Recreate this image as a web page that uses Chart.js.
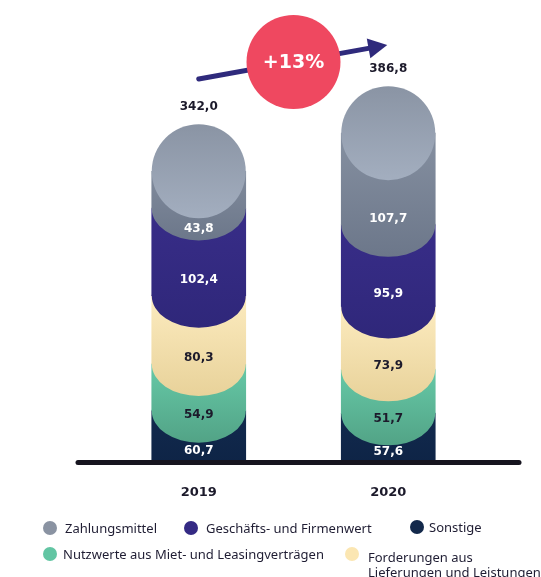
<!DOCTYPE html>
<html lang="de">
<head>
<meta charset="utf-8">
<script src="https://cdn.jsdelivr.net/npm/chart.js@4.4.1/dist/chart.umd.min.js"></script>
<style>
    html, body { margin: 0; padding: 0; background: #fff; }
    #wrap { position: relative; width: 541px; height: 577px; overflow: hidden; }
    #chart { position: absolute; left: 0; top: 0; }
    .dot { position: absolute; width: 14px; height: 14px; border-radius: 50%; }
    .lbl { position: absolute; font-family: 'Noto Sans', sans-serif; font-size: 13px; line-height: 16px; color: #1f1d33; white-space: nowrap; }
</style>
</head>
<body>
<div id="wrap">
    <canvas id="chart" width="541" height="577"></canvas>
</div>
<script>
// values (Mio. EUR)
const categories = ['2019', '2020'];
const zahlungsmittel = [43.8, 107.7];
const firmenwert = [102.4, 95.9];
const forderungen = [80.3, 73.9];
const nutzwerte = [54.9, 51.7];
const sonstige = [60.7, 57.6];
const totals = [342.0, 386.8];
const growthLabel = '+13%';

// stack from the bottom up
const stackOrder = [
    { label: 'Sonstige', values: sonstige },
    { label: 'Nutzwerte aus Miet- und Leasingverträgen', values: nutzwerte },
    { label: 'Forderungen aus Lieferungen und Leistungen', values: forderungen },
    { label: 'Geschäfts- und Firmenwert', values: firmenwert },
    { label: 'Zahlungsmittel', values: zahlungsmittel }
];

const styles = {
    'Sonstige': { top: '#122a4e', bottom: '#0e2446', dot: '#13294b', text: '#ffffff' },
    'Nutzwerte aus Miet- und Leasingverträgen': { top: '#66c9a7', bottom: '#52a386', dot: '#62c5a3', text: '#1c1a2b' },
    'Forderungen aus Lieferungen und Leistungen': { top: '#fcebbf', bottom: '#e8d29a', dot: '#fbe6b2', text: '#1c1a2b' },
    'Geschäfts- und Firmenwert': { top: '#382d88', bottom: '#2f277a', dot: '#342a84', text: '#ffffff' },
    'Zahlungsmittel': { top: '#8f99a9', bottom: '#6c778a', dot: '#8a93a2', text: '#ffffff' }
};

const CAP = 47;   // rounded top of the column
const TAIL = 32;  // rounded bottom of each segment
const fmt = v => v.toFixed(1).replace('.', ',');

// floating bars built from the running sum
const running = categories.map(() => 0);
const datasets = stackOrder.map((s, si) => {
    const st = styles[s.label];
    const data = s.values.map((v, i) => { const d = [running[i], running[i] + v]; running[i] += v; return d; });
    const isTop = si === stackOrder.length - 1;
    const isBottom = si === 0;
    return {
        label: s.label,
        data: data,
        values: s.values,
        isTop: isTop,
        isBottom: isBottom,
        labelColor: st.text,
        grouped: false,
        barThickness: 94,
        borderWidth: 0,
        borderSkipped: false,
        backgroundColor: (c) => {
            const chart = c.chart;
            const y = chart.scales && chart.scales.y;
            if (c.type !== 'data' || !y || !chart.chartArea || !Array.isArray(c.raw)) return st.top;
            const y0 = y.getPixelForValue(c.raw[1]) - (isTop ? CAP : 0);
            const y1 = y.getPixelForValue(c.raw[0]) + (isBottom ? 0 : TAIL);
            const g = chart.ctx.createLinearGradient(0, y0, 0, y1);
            g.addColorStop(0, st.top);
            g.addColorStop(1, st.bottom);
            return g;
        }
    };
}).reverse(); // top segment first so it is drawn last

const decor = {
    id: 'decor',
    afterDatasetDraw(chart, args) {
        const ds = chart.data.datasets[args.index];
        const ctx = chart.ctx;
        args.meta.data.forEach((bar) => {
            const x = bar.x, r = bar.width / 2;
            const top = Math.min(bar.y, bar.base), base = Math.max(bar.y, bar.base);
            ctx.save();
            ctx.fillStyle = bar.options.backgroundColor;
            if (!ds.isBottom) {
                ctx.beginPath();
                ctx.rect(x - r, base - 1, r * 2, 1);
                ctx.ellipse(x, base, r, TAIL, 0, 0, Math.PI, false);
                ctx.fill();
            }
            if (ds.isTop) {
                const g = ctx.createLinearGradient(0, top - CAP, 0, top + CAP);
                g.addColorStop(0, '#8a94a4');
                g.addColorStop(1, '#a3aebf');
                ctx.fillStyle = g;
                ctx.beginPath();
                ctx.ellipse(x, top, r, CAP, 0, 0, Math.PI * 2);
                ctx.fill();
            }
            ctx.restore();
        });
    },
    afterDatasetsDraw(chart) {
        const ctx = chart.ctx;
        const area = chart.chartArea;
        const xs = chart.scales.x;
        ctx.save();
        ctx.textAlign = 'center';
        ctx.textBaseline = 'middle';
        ctx.font = 'bold 12px "DejaVu Sans"';

        // segment values
        chart.data.datasets.forEach((ds, di) => {
            chart.getDatasetMeta(di).data.forEach((bar, i) => {
                const top = Math.min(bar.y, bar.base), base = Math.max(bar.y, bar.base);
                let y;
                if (ds.isTop) y = (top + CAP + base + TAIL) / 2;
                else if (ds.isBottom) y = (top + TAIL + base) / 2 - 2;
                else y = (top + base) / 2 + TAIL - 4;
                ctx.fillStyle = ds.labelColor;
                ctx.fillText(fmt(ds.values[i]), bar.x, y);
            });
        });

        // axis line
        ctx.strokeStyle = '#16141f';
        ctx.lineWidth = 5;
        ctx.lineCap = 'round';
        ctx.beginPath();
        ctx.moveTo(area.left - 26, area.bottom);
        ctx.lineTo(area.right + 36, area.bottom);
        ctx.stroke();

        // totals above the columns
        const topMeta = chart.getDatasetMeta(0);
        ctx.fillStyle = '#1c1a2b';
        topMeta.data.forEach((bar, i) => {
            ctx.fillText(fmt(totals[i]), bar.x, Math.min(bar.y, bar.base) - CAP - 17);
        });

        // growth arrow + bubble
        const x0 = xs.getPixelForValue(0), x1 = xs.getPixelForValue(1);
        const ax0 = x0, ay0 = area.top + 49, ax1 = x1 - 1, ay1 = area.top + 15;
        const ang = Math.atan2(ay1 - ay0, ax1 - ax0);
        ctx.strokeStyle = '#2f2a7c';
        ctx.fillStyle = '#2f2a7c';
        ctx.lineWidth = 5;
        ctx.beginPath();
        ctx.moveTo(ax0, ay0);
        ctx.lineTo(ax1 - 15 * Math.cos(ang), ay1 - 15 * Math.sin(ang));
        ctx.stroke();
        ctx.beginPath();
        ctx.moveTo(ax1, ay1);
        ctx.lineTo(ax1 - 19 * Math.cos(ang) + 10 * Math.sin(ang), ay1 - 19 * Math.sin(ang) - 10 * Math.cos(ang));
        ctx.lineTo(ax1 - 19 * Math.cos(ang) - 10 * Math.sin(ang), ay1 - 19 * Math.sin(ang) + 10 * Math.cos(ang));
        ctx.closePath();
        ctx.fill();

        const bx = (x0 + x1) / 2, by = area.top + 32;
        ctx.fillStyle = '#ef4860';
        ctx.beginPath();
        ctx.arc(bx, by, 47, 0, Math.PI * 2);
        ctx.fill();
        ctx.fillStyle = '#ffffff';
        ctx.font = 'bold 19px "DejaVu Sans"';
        ctx.fillText(growthLabel, bx, by + 1);
        ctx.restore();
    }
};

new Chart(document.getElementById('chart').getContext('2d'), {
    type: 'bar',
    data: { labels: categories, datasets: datasets },
    options: {
        responsive: false,
        animation: false,
        layout: { padding: { top: 30, left: 104, right: 58, bottom: 55 } },
        scales: {
            x: {
                stacked: true,
                grid: { display: false, drawTicks: false },
                border: { display: false },
                ticks: { color: '#1c1a2b', padding: 22, font: { family: 'DejaVu Sans', weight: 'bold', size: 13 } }
            },
            y: { display: false, min: 0, max: 508 }
        },
        plugins: { legend: { display: false }, tooltip: { enabled: false } }
    },
    plugins: [decor]
});

// legend as html, laid out like the reference
const legendLayout = [
    { label: 'Zahlungsmittel', dx: 50, dy: 528, tx: 65, ty: 520 },
    { label: 'Geschäfts- und Firmenwert', dx: 191, dy: 528, tx: 206, ty: 520 },
    { label: 'Sonstige', dx: 417, dy: 527, tx: 429, ty: 519 },
    { label: 'Nutzwerte aus Miet- und Leasingverträgen', dx: 50, dy: 554, tx: 63, ty: 546 },
    { label: 'Forderungen aus Lieferungen und Leistungen', dx: 352, dy: 554, tx: 368, ty: 550, text: 'Forderungen aus<br>Lieferungen und Leistungen' }
];
const wrap = document.getElementById('wrap');
legendLayout.forEach(l => {
    const d = document.createElement('div');
    d.className = 'dot';
    d.style.left = (l.dx - 7) + 'px';
    d.style.top = (l.dy - 7) + 'px';
    d.style.background = styles[l.label].dot;
    wrap.appendChild(d);
    const t = document.createElement('div');
    t.className = 'lbl';
    t.style.left = l.tx + 'px';
    t.style.top = l.ty + 'px';
    if (l.text) { t.innerHTML = l.text; t.style.lineHeight = '15px'; }
    else t.textContent = l.label;
    wrap.appendChild(t);
});
</script>
</body>
</html>
